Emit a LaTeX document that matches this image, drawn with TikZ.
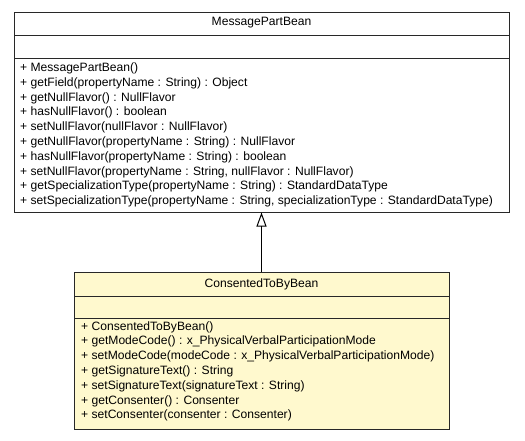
\documentclass[tikz,border=0pt]{standalone}
\usepackage{fontspec}
\setmainfont{Liberation Sans}
\usetikzlibrary{arrows.meta}
\definecolor{beanyellow}{RGB}{255,249,206}
\definecolor{boxline}{RGB}{40,40,40}
\tikzset{
  classbox/.style={draw=boxline, line width=1pt, rectangle, inner sep=0pt},
  member/.style={anchor=west, inner sep=0pt, font=\fontsize{12.1}{14}\selectfont},
  title/.style={anchor=center, inner sep=0pt, font=\fontsize{12.1}{14}\selectfont},
  sep/.style={draw=boxline, line width=1pt}
}
\begin{document}
\begin{tikzpicture}[x=1pt,y=-1pt]
\useasboundingbox (0,0) rectangle (525,440);
% super class
\node[classbox, fill=white, minimum width=495pt, minimum height=200pt] (super) at (261.5,112) {};
\draw[sep] (14,35) -- (509,35);
\draw[sep] (14,58) -- (509,58);
\node[title] (supt) at (261.5,23) {MessagePartBean};
\node[member] (m1) at (20,68.3) {+ MessagePartBean()};
\node[member] (m2) at (20,83.1) {+ getField(propertyName : String) : Object};
\node[member] (m3) at (20,97.9) {+ getNullFlavor() : NullFlavor};
\node[member] (m4) at (20,112.7) {+ hasNullFlavor() : boolean};
\node[member] (m5) at (20,127.5) {+ setNullFlavor(nullFlavor : NullFlavor)};
\node[member] (m6) at (20,142.3) {+ getNullFlavor(propertyName : String) : NullFlavor};
\node[member] (m7) at (20,157.1) {+ hasNullFlavor(propertyName : String) : boolean};
\node[member] (m8) at (20,171.9) {+ setNullFlavor(propertyName : String, nullFlavor : NullFlavor)};
\node[member] (m9) at (20,186.7) {+ getSpecializationType(propertyName : String) : StandardDataType};
\node[member] (m10) at (20,201.5) {+ setSpecializationType(propertyName : String, specializationType : StandardDataType)};
% sub class
\node[classbox, fill=beanyellow, minimum width=375pt, minimum height=157pt] (sub) at (261.5,350.5) {};
\draw[sep] (74,296) -- (449,296);
\draw[sep] (74,318) -- (449,318);
\node[title] (subt) at (261.5,284) {ConsentedToByBean};
\node[member] (s1) at (81,327) {+ ConsentedToByBean()};
\node[member] (s2) at (81,341.8) {+ getModeCode() : x\_PhysicalVerbalParticipationMode};
\node[member] (s3) at (81,356.6) {+ setModeCode(modeCode : x\_PhysicalVerbalParticipationMode)};
\node[member] (s4) at (81,371.4) {+ getSignatureText() : String};
\node[member] (s5) at (81,386.2) {+ setSignatureText(signatureText : String)};
\node[member] (s6) at (81,401) {+ getConsenter() : Consenter};
\node[member] (s7) at (81,415.8) {+ setConsenter(consenter : Consenter)};
% generalization
\draw[line width=1pt, -{Triangle[open, width=10pt, length=14pt]}] (sub.north) -- (super.south);
\end{tikzpicture}
\end{document}
